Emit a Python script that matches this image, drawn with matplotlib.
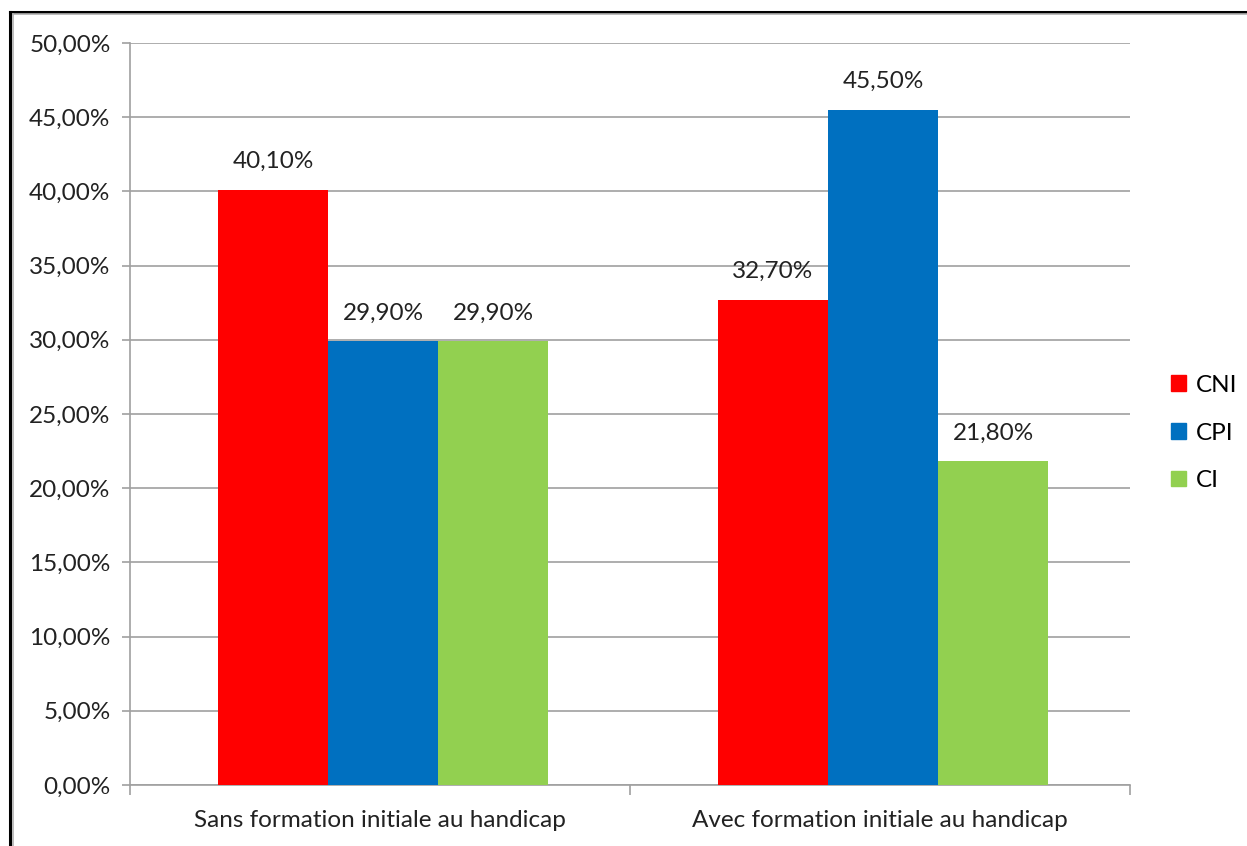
import numpy as np
import matplotlib.pyplot as plt
from matplotlib.lines import Line2D

plt.rcParams['font.family'] = ['Lato', 'DejaVu Sans']

# data
categories = ['Sans formation initiale au handicap', 'Avec formation initiale au handicap']
series = ['CNI', 'CPI', 'CI']
cni = [40.1, 32.7]
cpi = [29.9, 45.5]
ci = [29.9, 21.8]
colors = ['#FF0000', '#0070C0', '#92D050']


def fmt(v):
    return f"{v:.2f}%".replace('.', ',')


fs = 17.5
fig = plt.figure(figsize=(12.47, 8.46), dpi=100)
ax = fig.add_axes([130/1247, 1-785/846, 1000/1247, 742/846])

x = np.arange(len(categories))
w = 0.22
for i, (vals, name) in enumerate(zip([cni, cpi, ci], series)):
    bars = ax.bar(x + (i-1)*w + 0.006, vals, w, color=colors[i], label=name, zorder=3)
    for b, v in zip(bars, vals):
        ax.text(b.get_x() + b.get_width()/2, v + 1.2, fmt(v),
                ha='center', va='bottom', fontsize=fs, color='#222222')

ax.set_xlim(-0.5, 1.5)
ax.set_ylim(0, 50)
ax.set_yticks(np.arange(0, 51, 5))
ax.set_yticklabels([fmt(v) for v in np.arange(0, 51, 5)], fontsize=fs, color='#222222')
ax.yaxis.grid(True, color='#A0A0A0', linewidth=1.2, zorder=0)

# category labels between boundary ticks
ax.set_xticks([-0.5, 0.5, 1.5])
ax.set_xticklabels([])
ax.set_xticks(x, minor=True)
ax.set_xticklabels(categories, minor=True, fontsize=fs, color='#222222')
ax.tick_params(axis='x', which='minor', length=0, pad=18)
ax.tick_params(axis='x', which='major', length=7, color='#A0A0A0', width=1.2)
ax.tick_params(axis='y', length=6, color='#A0A0A0', width=1.2, pad=8)

for s in ['top', 'right']:
    ax.spines[s].set_visible(False)
ax.spines['left'].set_color('#A0A0A0')
ax.spines['bottom'].set_color('#A0A0A0')
ax.spines['left'].set_linewidth(1.2)
ax.spines['bottom'].set_linewidth(1.2)

handles = [plt.Rectangle((0, 0), 1, 1, color=c) for c in colors]
fig.legend(handles, series, loc='center left', bbox_to_anchor=(1164/1247, 1-433/846),
           frameon=False, fontsize=fs, handlelength=0.6, handleheight=0.6,
           handletextpad=0.4, labelspacing=1.1, borderaxespad=0, borderpad=0.3)

# outer frame (only top and left visible)
W, H = 1247, 846
fig.add_artist(Line2D([10/W, 1], [1-12/H, 1-12/H], color='black', linewidth=2.2, transform=fig.transFigure))
fig.add_artist(Line2D([12/W, 1], [1-14.5/H, 1-14.5/H], color='#B0B0B0', linewidth=1.2, transform=fig.transFigure))
fig.add_artist(Line2D([10/W, 10/W], [0, 1-12/H], color='black', linewidth=2.2, transform=fig.transFigure))
fig.add_artist(Line2D([12.5/W, 12.5/W], [0, 1-14/H], color='#B0B0B0', linewidth=1.2, transform=fig.transFigure))

fig.savefig('out.png', dpi=100)
